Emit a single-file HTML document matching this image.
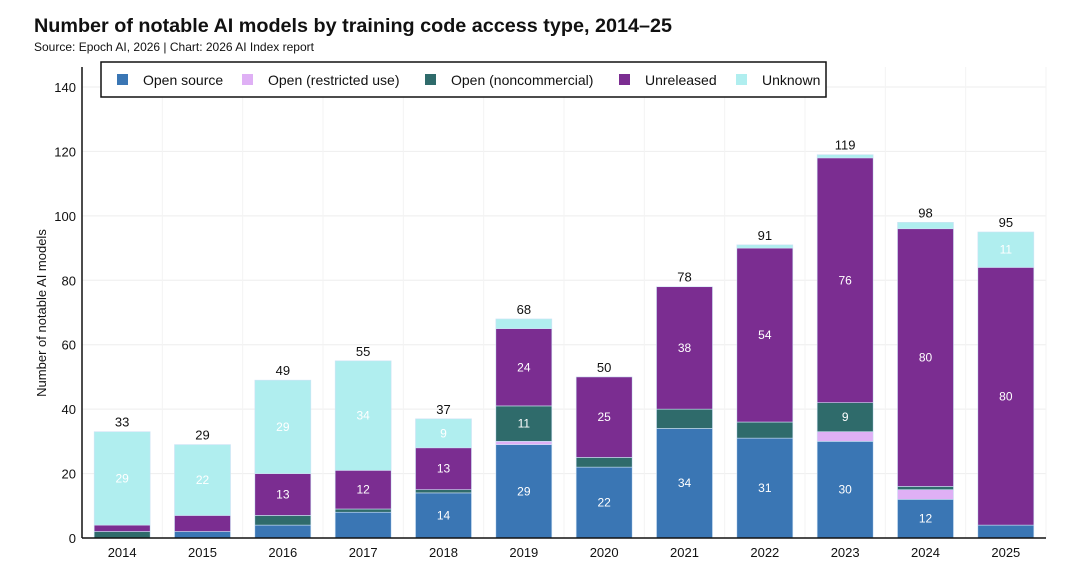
<!DOCTYPE html>
<html><head><meta charset="utf-8"><style>
body{margin:0;background:#fff;font-family:"Liberation Sans",sans-serif;}
#wrap{position:relative;width:1080px;height:572px;overflow:hidden}
</style></head><body><div id="wrap">
<svg id="svg" width="1080" height="572" xmlns="http://www.w3.org/2000/svg" font-family="Liberation Sans, sans-serif">
<text x="34" y="32" font-size="19.8" font-weight="bold" fill="#111">Number of notable AI models by training code access type, 2014–25</text>
<text x="34" y="51" font-size="12" fill="#111">Source: Epoch AI, 2026 | Chart: 2026 AI Index report</text>
<text transform="translate(46,313) rotate(-90)" text-anchor="middle" font-size="13" fill="#111">Number of notable AI models</text>
<g id="grid"></g><g id="bars"></g><g id="axes"></g>
<g>
<rect x="101" y="62" width="725" height="35" fill="#fff" stroke="#111" stroke-width="1.5"/>
<g id="legend"></g></g>
</svg></div>
<script>
const years=["2014","2015","2016","2017","2018","2019","2020","2021","2022","2023","2024","2025"];
const openSource=[0,2,4,8,14,29,22,34,31,30,12,4];
const openRestricted=[0,0,0,0,0,1,0,0,0,3,3,0];
const openNoncommercial=[2,0,3,1,1,11,3,6,5,9,1,0];
const unreleased=[2,5,13,12,13,24,25,38,54,76,80,80];
const unknown=[29,22,29,34,9,3,0,0,1,1,2,11];
const yTicks=[0,20,40,60,80,100,120,140];
const seriesNames=["Open source","Open (restricted use)","Open (noncommercial)","Unreleased","Unknown"];
const series=[openSource,openRestricted,openNoncommercial,unreleased,unknown];
const colors=["#3a76b4","#dfb0f5","#2f6b6b","#7b2d91","#b0eeef"];
const NS="http://www.w3.org/2000/svg";
const X0=82,X1=1046,Y0=538,Y140=87;
const y=v=>Y0-(Y0-Y140)*v/140;
const step=(X1-X0)/years.length;
const xc=i=>X0+step*(i+0.5);
const BW=56;
function mk(t,a,p){const e=document.createElementNS(NS,t);for(const k in a)e.setAttribute(k,a[k]);p.appendChild(e);return e;}
const grid=document.getElementById('grid'),bars=document.getElementById('bars'),axes=document.getElementById('axes');
yTicks.forEach(t=>{
 const l=mk('line',{x1:X0,x2:X1,y1:y(t),y2:y(t),stroke:'#eee','stroke-width':1},grid);
 
 
 const tx=mk('text',{x:76,y:y(t)+5,'text-anchor':'end','font-size':13,fill:'#111'},axes);
 tx.textContent=t;
 
 
});
years.forEach((yr,i)=>{
 const vl=mk('line',{x1:xc(i)+step/2,x2:xc(i)+step/2,y1:Y140-20,y2:Y0,stroke:'#f3f3f3'},grid);
 
 
 let cum=0;
 series.forEach((s,k)=>{
  const v=s[i]; if(v<=0)return;
  const r=mk('rect',{x:xc(i)-BW/2,y:y(cum+v),width:BW,height:y(cum)-y(cum+v),fill:colors[k],stroke:'#cfe3f5','stroke-width':0.6},bars);
  
  
  if(v>=9){const t=mk('text',{x:xc(i),y:(y(cum)+y(cum+v))/2+4,'text-anchor':'middle','font-size':12,fill:'#fff'},bars);
   t.textContent=v;
   
   }
  cum+=v;
 });
 const tt=mk('text',{x:xc(i),y:y(cum)-5,'text-anchor':'middle','font-size':13,fill:'#111'},bars);
 tt.textContent=cum;
 
 
 const xl=mk('text',{x:xc(i),y:557,'text-anchor':'middle','font-size':13,fill:'#111'},axes);
 xl.textContent=yr;
 
 
});
const ya=mk('line',{x1:X0,x2:X0,y1:Y140-20,y2:Y0,stroke:'#111','stroke-width':1.5},axes);


const xa=mk('line',{x1:X0,x2:X1,y1:Y0,y2:Y0,stroke:'#111','stroke-width':1.5},axes);


const lg=document.getElementById('legend');
const lx=[117,242,425,619,736];
seriesNames.forEach((n,k)=>{
 const r=mk('rect',{x:lx[k],y:74,width:11,height:11,fill:colors[k]},lg);
 
 
 const t=mk('text',{x:lx[k]+26,y:85,'font-size':14,fill:'#111'},lg);
 t.textContent=n;
 
 
});
</script></body></html>
